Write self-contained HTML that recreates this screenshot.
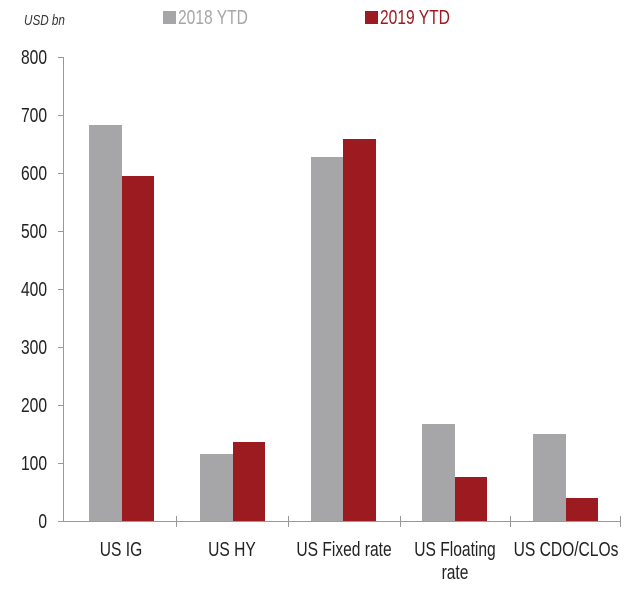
<!DOCTYPE html>
<html><head><meta charset="utf-8"><style>
html,body{margin:0;padding:0;background:#fff;}
svg{display:block;}
text{font-family:"Liberation Sans",sans-serif;}
</style></head><body>
<svg width="631" height="590" viewBox="0 0 631 590">
<g font-size="20" fill="#333">
<text x="0" y="0" transform="translate(24,25) scale(0.78,1)" font-style="italic" font-size="15">USD bn</text>
<rect x="163" y="11" width="13" height="13" fill="#a6a6a8"/>
<text transform="translate(178,24) scale(0.78,1)" fill="#a6a6a8">2018 YTD</text>
<rect x="365" y="11" width="13" height="13" fill="#9b1b20"/>
<text transform="translate(380,24) scale(0.78,1)" fill="#9b1b20">2019 YTD</text>
</g>
<g font-size="20" fill="#222" text-anchor="end">
<text transform="translate(47,64) scale(0.78,1)">800</text>
<text transform="translate(47,122) scale(0.78,1)">700</text>
<text transform="translate(47,180) scale(0.78,1)">600</text>
<text transform="translate(47,238) scale(0.78,1)">500</text>
<text transform="translate(47,296) scale(0.78,1)">400</text>
<text transform="translate(47,354) scale(0.78,1)">300</text>
<text transform="translate(47,412) scale(0.78,1)">200</text>
<text transform="translate(47,470) scale(0.78,1)">100</text>
<text transform="translate(47,528) scale(0.78,1)">0</text>
</g>
<g stroke="#999" stroke-width="1">
<line x1="63.5" y1="57" x2="63.5" y2="521"/>
<line x1="58" y1="57.5" x2="63" y2="57.5"/>
<line x1="58" y1="115.5" x2="63" y2="115.5"/>
<line x1="58" y1="173.5" x2="63" y2="173.5"/>
<line x1="58" y1="231.5" x2="63" y2="231.5"/>
<line x1="58" y1="289.5" x2="63" y2="289.5"/>
<line x1="58" y1="347.5" x2="63" y2="347.5"/>
<line x1="58" y1="405.5" x2="63" y2="405.5"/>
<line x1="58" y1="463.5" x2="63" y2="463.5"/>
<line x1="58" y1="521.5" x2="621" y2="521.5"/>
<line x1="176.5" y1="516" x2="176.5" y2="527"/>
<line x1="288.5" y1="516" x2="288.5" y2="527"/>
<line x1="400.5" y1="516" x2="400.5" y2="527"/>
<line x1="510.5" y1="516" x2="510.5" y2="527"/>
<line x1="620.5" y1="516" x2="620.5" y2="527"/>
</g>
<g fill="#a6a6a8">
<rect x="89" y="125" width="33" height="396"/>
<rect x="200" y="454" width="33" height="67"/>
<rect x="311" y="157" width="32" height="364"/>
<rect x="422" y="424" width="33" height="97"/>
<rect x="533" y="434" width="33" height="87"/>
</g>
<g fill="#9b1b20">
<rect x="122" y="176" width="32" height="345"/>
<rect x="233" y="442" width="32" height="79"/>
<rect x="343" y="139" width="33" height="382"/>
<rect x="455" y="477" width="32" height="44"/>
<rect x="566" y="498" width="32" height="23"/>
</g>
<g font-size="20" fill="#222" text-anchor="middle">
<text transform="translate(121,556) scale(0.78,1)">US IG</text>
<text transform="translate(232,556) scale(0.78,1)">US HY</text>
<text transform="translate(344,556) scale(0.78,1)">US Fixed rate</text>
<text transform="translate(455,556) scale(0.78,1)">US Floating</text>
<text transform="translate(455,579) scale(0.78,1)">rate</text>
<text transform="translate(566,556) scale(0.78,1)">US CDO/CLOs</text>
</g>
</svg>
</body></html>
